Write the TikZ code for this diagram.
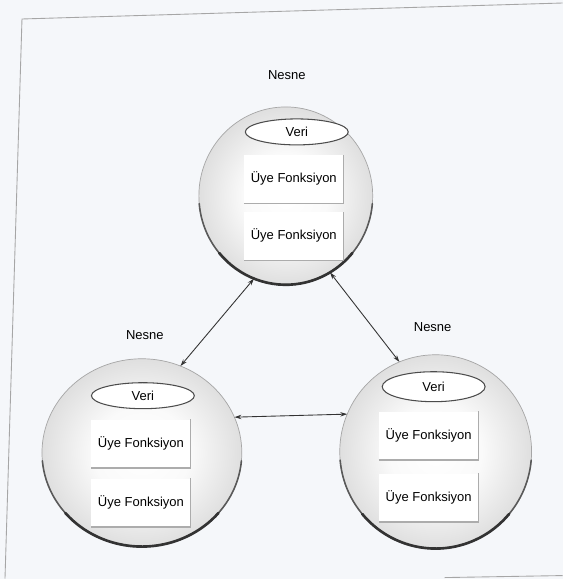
\documentclass[tikz,border=0pt]{standalone}
\usepackage{fontspec}
\setmainfont{Liberation Sans}
\usetikzlibrary{arrows.meta, positioning, shapes.geometric}
\definecolor{paper}{HTML}{F5F7FA}
\pgfdeclareradialshading{ball}{\pgfpoint{0bp}{0bp}}{color(0bp)=(white); color(12bp)=(white!96!gray); color(28bp)=(gray!30); color(42bp)=(gray!55); color(50bp)=(gray!72)}

\begin{document}
\begin{tikzpicture}[x=0.02cm, y=0.02cm,
    font=\fontsize{7.4}{9}\selectfont,
    sphere/.style={ellipse, shading=ball, draw=gray!70, outer sep=0pt, inner sep=0pt},
    veri/.style={ellipse, fill=white, draw=black!70, line width=0.6pt, minimum width=2.06cm, minimum height=0.52cm, inner sep=0pt},
    uye/.style={rectangle, fill=white, minimum width=1.98cm, minimum height=0.96cm, inner sep=0pt},
    edge/.style={draw=gray!65, line width=0.7pt},
    rimline/.style={draw=black!65, line width=0.9pt, line cap=round},
    rimdark/.style={draw=black!80, line width=1.5pt, line cap=round},
    link/.style={{Stealth[length=4pt,width=2.5pt]}-{Stealth[length=4pt,width=2.5pt]}, line width=0.5pt, draw=black!80}]

    % paper and scan frame
    \fill[paper] (0,0) rectangle (563,-579);
    \draw[gray!70, line width=0.5pt] (5,-579) -- (22,-19) -- (563,-3);
    \draw[gray!70, line width=0.5pt] (445,-578) -- (563,-576);

    % objects
    \node[sphere, minimum width=3.48cm, minimum height=3.56cm] (topball) at (286,-196) {};
    \node[sphere, minimum width=4.0cm, minimum height=3.76cm] (leftball) at (142,-453) {};
    \node[sphere, minimum width=3.84cm, minimum height=3.88cm] (rightball) at (436,-452) {};

    % dark lower rims
    \draw[rimline] (topball.center) ++(185:1.74cm and 1.78cm) arc[start angle=185, end angle=355, x radius=1.74cm, y radius=1.78cm];
    \draw[rimdark] (topball.center) ++(220:1.74cm and 1.78cm) arc[start angle=220, end angle=320, x radius=1.74cm, y radius=1.78cm];
    \draw[rimline] (leftball.center) ++(185:2.0cm and 1.88cm) arc[start angle=185, end angle=355, x radius=2.0cm, y radius=1.88cm];
    \draw[rimdark] (leftball.center) ++(220:2.0cm and 1.88cm) arc[start angle=220, end angle=320, x radius=2.0cm, y radius=1.88cm];
    \draw[rimline] (rightball.center) ++(185:1.92cm and 1.94cm) arc[start angle=185, end angle=355, x radius=1.92cm, y radius=1.94cm];
    \draw[rimdark] (rightball.center) ++(220:1.92cm and 1.94cm) arc[start angle=220, end angle=320, x radius=1.92cm, y radius=1.94cm];

    % labels
    \node (topname) at (287,-75) {Nesne};
    \node (leftname) at (145,-335) {Nesne};
    \node (rightname) at (433,-327) {Nesne};

    % data
    \node[veri] (topveri) at (297,-132) {Veri};
    \node[veri] (leftveri) at (143,-396) {Veri};
    \node[veri, minimum height=0.6cm] (rightveri) at (434,-387) {Veri};

    % member functions
    \node[uye] (topf1) at (294,-179) {Üye Fonksiyon};
    \node[uye] (topf2) at (294,-236) {Üye Fonksiyon};
    \node[uye] (leftf1) at (141,-444) {Üye Fonksiyon};
    \node[uye] (leftf2) at (141,-503) {Üye Fonksiyon};
    \node[uye] (rightf1) at (429,-436) {Üye Fonksiyon};
    \node[uye] (rightf2) at (429,-498) {Üye Fonksiyon};
    \foreach \b in {topf1, topf2, leftf1, leftf2, rightf1, rightf2}
        \draw[edge] (\b.south west) -- (\b.south east) -- (\b.north east);

    % messages
    \draw[link] (topball.249) -- (leftball.66);
    \draw[link] (topball.300) -- (rightball.112);
    \draw[link] (leftball.21) -- (rightball.157);

\end{tikzpicture}
\end{document}
